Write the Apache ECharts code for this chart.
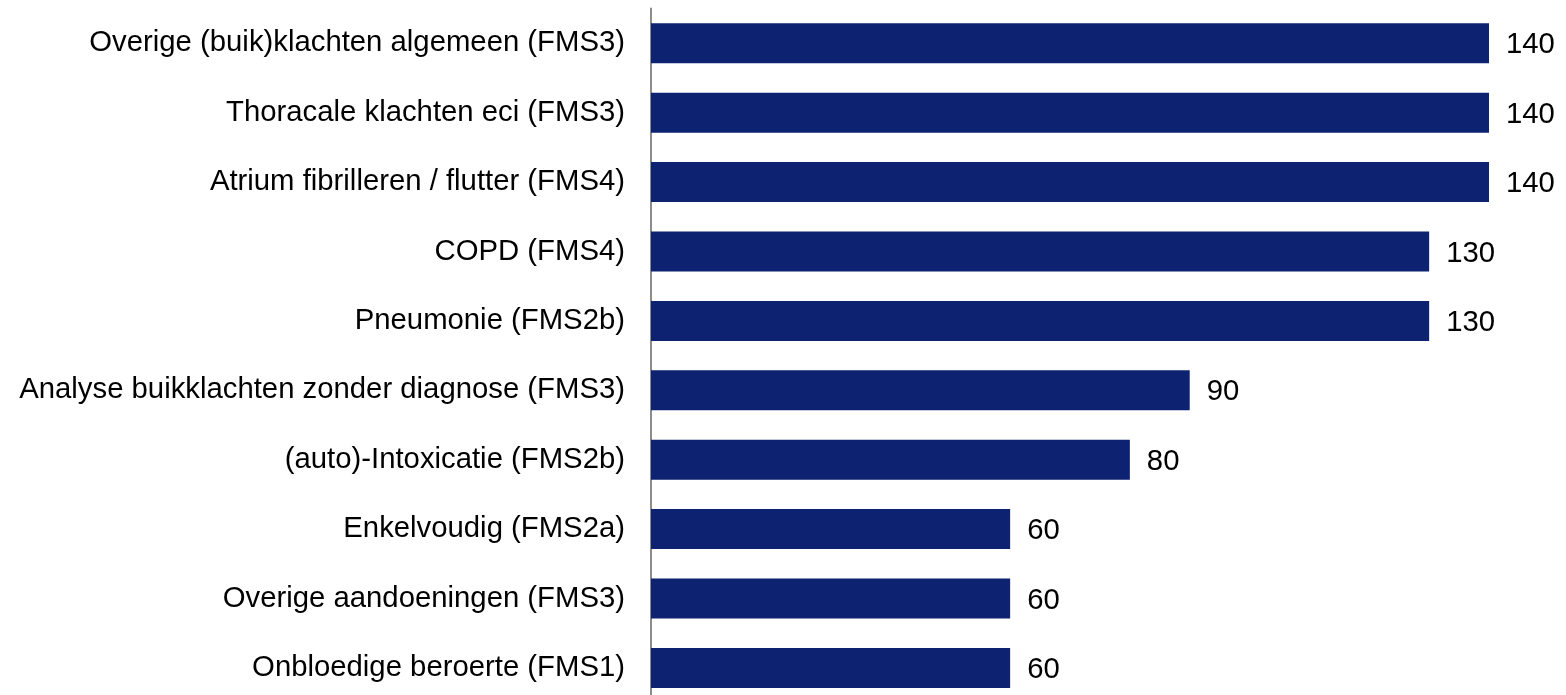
<!DOCTYPE html>
<html>
<head>
<meta charset="utf-8">
<script src="https://cdn.jsdelivr.net/npm/echarts@6/dist/echarts.min.js"></script>
<style>
  html, body { margin: 0; padding: 0; background: #fff; }
  #chart { width: 1566px; height: 695px; }
</style>
</head>
<body>
<div id="chart"></div>
<script>
  // categories top -> bottom
  const categories = [
    'Overige (buik)klachten algemeen (FMS3)',
    'Thoracale klachten eci (FMS3)',
    'Atrium fibrilleren / flutter (FMS4)',
    'COPD (FMS4)',
    'Pneumonie (FMS2b)',
    'Analyse buikklachten zonder diagnose (FMS3)',
    '(auto)-Intoxicatie (FMS2b)',
    'Enkelvoudig (FMS2a)',
    'Overige aandoeningen (FMS3)',
    'Onbloedige beroerte (FMS1)'
  ]
  const values = [140, 140, 140, 130, 130, 90, 80, 60, 60, 60]

  const font = "'Liberation Sans', Arial, sans-serif"

  const chart = echarts.init(document.getElementById('chart'))
  chart.setOption({
    animation: false,
    grid: {
      left: 651,
      right: 77,
      top: 8.6,
      height: 694,
      outerBoundsMode: 'none'
    },
    xAxis: {
      type: 'value',
      min: 0,
      max: 140,
      show: false
    },
    yAxis: {
      type: 'category',
      data: categories,
      inverse: true,
      axisLine: { lineStyle: { color: '#8c8c8c', width: 2 } },
      axisTick: { show: false },
      axisLabel: {
        margin: 26,
        color: '#000',
        fontFamily: font,
        fontSize: 29.3,
        padding: [4, 0, 0, 0]
      }
    },
    series: [{
      type: 'bar',
      data: values,
      barWidth: 40,
      itemStyle: { color: '#0d2271' },
      label: {
        show: true,
        position: 'right',
        distance: 17,
        offset: [0, 2],
        color: '#000',
        fontFamily: font,
        fontSize: 29.3
      }
    }]
  })
</script>
</body>
</html>
